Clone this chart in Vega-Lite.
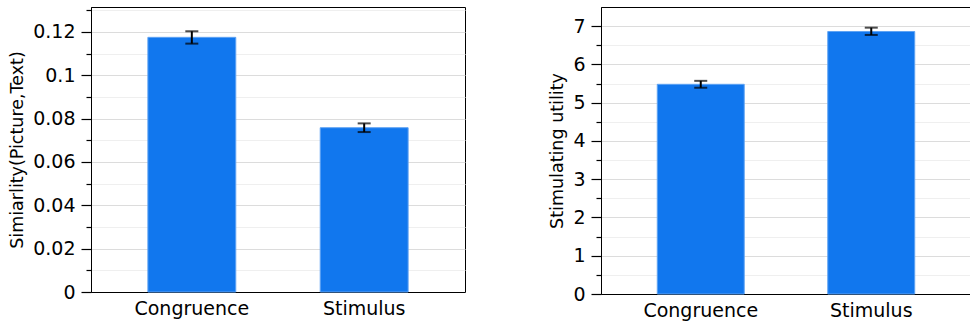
{
  "$schema": "https://vega.github.io/schema/vega-lite/v6.json",
  "padding": {"left": 8, "top": 6, "right": 1, "bottom": 0},
  "spacing": 82,
  "datasets": {
    "sim": [
      {"cond": "Congruence", "mean": 0.1175, "lo": 0.1146, "hi": 0.1203},
      {"cond": "Stimulus", "mean": 0.0758, "lo": 0.0738, "hi": 0.0778}
    ],
    "util": [
      {"cond": "Congruence", "mean": 5.48, "lo": 5.39, "hi": 5.57},
      {"cond": "Stimulus", "mean": 6.86, "lo": 6.77, "hi": 6.96}
    ]
  },
  "config": {
    "view": {"stroke": "#000000", "strokeWidth": 1},
    "font": "DejaVu Sans",
    "axis": {
      "domainColor": "#000000",
      "tickColor": "#000000",
      "tickWidth": 1.2,
      "labelColor": "#000000",
      "titleColor": "#000000",
      "labelFont": "DejaVu Sans",
      "titleFont": "DejaVu Sans",
      "labelFontSize": 19,
      "titleFontSize": 17.5,
      "titleFontWeight": "normal"
    }
  },
  "hconcat": [
    {
      "width": 374,
      "height": 285,
      "data": {"name": "sim"},
      "encoding": {
        "x": {
          "field": "cond", "type": "nominal", "sort": null,
          "scale": {"paddingInner": 0.49, "paddingOuter": 0.33},
          "axis": {"title": null, "labelAngle": 0, "ticks": false, "labelPadding": 7, "grid": false}
        }
      },
      "layer": [
        {
          "mark": {"type": "bar", "color": "#1177ee", "stroke": "#5fa3f3", "strokeWidth": 1},
          "encoding": {
            "y": {
              "field": "mean", "type": "quantitative",
              "scale": {"domain": [0, 0.1315], "nice": false, "zero": true},
              "axis": {
                "title": "Simiarlity(Picture,Text)",
                "titlePadding": 6,
                "values": [0, 0.02, 0.04, 0.06, 0.08, 0.1, 0.12],
                "format": "~g",
                "tickSize": 10,
                "gridColor": "#dcdcdc",
                "grid": true,
                "labelPadding": 6
              }
            }
          }
        },
        {
          "mark": {"type": "rule", "color": "#000000", "strokeWidth": 2},
          "encoding": {
            "y": {
              "field": "lo", "type": "quantitative",
              "axis": {
                "orient": "left",
                "title": null,
                "values": [0.01, 0.03, 0.05, 0.07, 0.09, 0.11, 0.13],
                "labels": false,
                "domain": false,
                "tickSize": 5,
                "gridColor": "#efefef",
                "grid": true
              }
            },
            "y2": {"field": "hi"}
          }
        },
        {
          "mark": {"type": "tick", "color": "#000000", "size": 13, "thickness": 2},
          "encoding": {"y": {"field": "lo", "type": "quantitative", "axis": null}}
        },
        {
          "mark": {"type": "tick", "color": "#000000", "size": 13, "thickness": 2},
          "encoding": {"y": {"field": "hi", "type": "quantitative", "axis": null}}
        }
      ],
      "resolve": {"axis": {"y": "independent"}}
    },
    {
      "width": 370,
      "height": 287,
      "data": {"name": "util"},
      "encoding": {
        "x": {
          "field": "cond", "type": "nominal", "sort": null,
          "scale": {"paddingInner": 0.49, "paddingOuter": 0.33},
          "axis": {"title": null, "labelAngle": 0, "ticks": false, "labelPadding": 7, "grid": false}
        }
      },
      "layer": [
        {
          "mark": {"type": "bar", "color": "#1177ee", "stroke": "#5fa3f3", "strokeWidth": 1},
          "encoding": {
            "y": {
              "field": "mean", "type": "quantitative",
              "scale": {"domain": [0, 7.5], "nice": false, "zero": true},
              "axis": {
                "title": "Stimulating utility",
                "titlePadding": 6,
                "values": [0, 1, 2, 3, 4, 5, 6, 7],
                "format": "~g",
                "tickSize": 10,
                "gridColor": "#dcdcdc",
                "grid": true,
                "labelPadding": 6
              }
            }
          }
        },
        {
          "mark": {"type": "rule", "color": "#000000", "strokeWidth": 2},
          "encoding": {
            "y": {
              "field": "lo", "type": "quantitative",
              "axis": {
                "orient": "left",
                "title": null,
                "values": [0.5, 1.5, 2.5, 3.5, 4.5, 5.5, 6.5],
                "labels": false,
                "domain": false,
                "tickSize": 5,
                "gridColor": "#efefef",
                "grid": true
              }
            },
            "y2": {"field": "hi"}
          }
        },
        {
          "mark": {"type": "tick", "color": "#000000", "size": 13, "thickness": 2},
          "encoding": {"y": {"field": "lo", "type": "quantitative", "axis": null}}
        },
        {
          "mark": {"type": "tick", "color": "#000000", "size": 13, "thickness": 2},
          "encoding": {"y": {"field": "hi", "type": "quantitative", "axis": null}}
        }
      ],
      "resolve": {"axis": {"y": "independent"}}
    }
  ]
}
